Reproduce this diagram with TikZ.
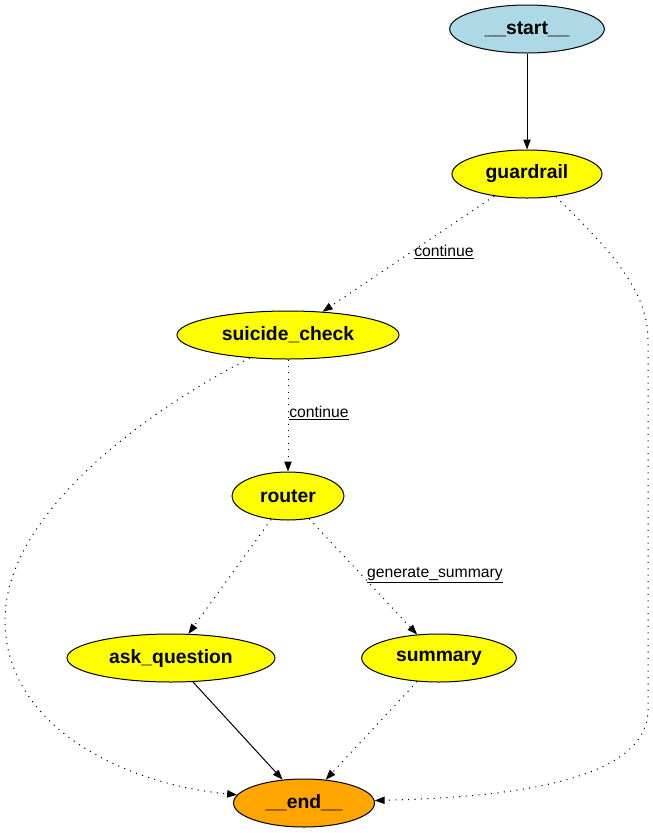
\documentclass[tikz,border=0pt]{standalone}
\usepackage{fontspec}
\setmainfont{Liberation Sans}
\usetikzlibrary{shapes.geometric,arrows.meta}

\definecolor{lightblue}{HTML}{ADD8E6}
\definecolor{nodeyellow}{HTML}{FFFF00}
\definecolor{endorange}{HTML}{FFA500}

\tikzset{
  state/.style={ellipse, draw=black, line width=0.75pt, inner sep=0pt, minimum height=36pt, font=\fontsize{14.5}{16}\selectfont\bfseries},
  flow/.style={-{Triangle[length=7.5pt,width=5.5pt]}, line width=0.75pt},
  cond/.style={flow, dash pattern=on 0.8pt off 4pt},
  edgelabel/.style={font=\fontsize{11.8}{13}\selectfont, inner sep=1pt},
}

\begin{document}
\begin{tikzpicture}[x=0.75pt,y=-0.75pt]
        \useasboundingbox (0,0) rectangle (653,833);

        \node (start) [state, fill=lightblue, minimum width=116pt] at (527,29) {\_\_start\_\_};
        \node (guardrail) [state, fill=nodeyellow, minimum width=112.5pt] at (527,174) {guardrail};
        \node (suicide) [state, fill=nodeyellow, minimum width=166.5pt] at (288,335) {suicide\_check};
        \node (router) [state, fill=nodeyellow, minimum width=84pt] at (288,496) {router};
        \node (ask) [state, fill=nodeyellow, minimum width=156pt] at (171,658) {ask\_question};
        \node (summary) [state, fill=nodeyellow, minimum width=116pt] at (439,658) {summary};
        \node (end) [state, fill=endorange, minimum width=105.75pt] at (304,803) {\_\_end\_\_};

        \draw[flow] (start) -- (guardrail);
        \draw[cond] (guardrail) -- (suicide) node (lblguard) [edgelabel] at (444,252) {\underline{continue}};
        \draw[cond] (suicide) -- (router) node (lblsuicide) [edgelabel] at (319,413) {\underline{continue}};
        \draw[cond] (router) -- (ask);
        \draw[cond] (router) -- (summary) node (lblrouter) [edgelabel] at (435,575) {\underline{generate\_summary}};
        \draw[flow] (ask) -- (end);
        \draw[cond] (summary) -- (end);

        % fall-through edges to the end node
        \draw[cond] (guardrail.-38) .. controls (610,250) and (648,290) .. (648,340)
            -- (648,710) .. controls (648,790) and (470,798) .. (end.2);
        \draw[cond] (suicide.211) .. controls (130,420) and (5,520) .. (5,620)
            .. controls (5,730) and (130,785) .. (end.173);
    \end{tikzpicture}
\end{document}
